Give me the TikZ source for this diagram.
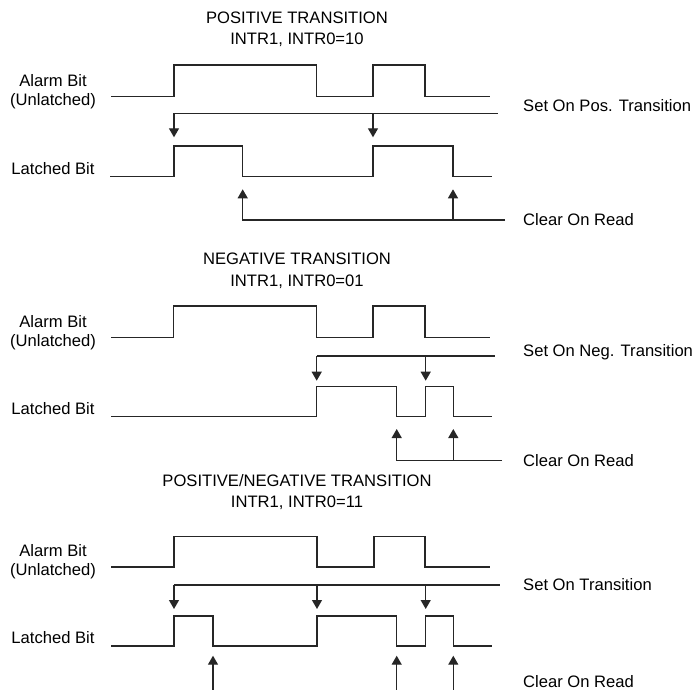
\documentclass[tikz,border=0pt]{standalone}
\usepackage{fontspec}
\setmainfont{Liberation Sans}
\usetikzlibrary{arrows.meta}
\begin{document}
\begin{tikzpicture}[x=1pt,y=-1pt,
  wave/.style={line width=1.3pt,black!85,line join=miter},
  conn/.style={line width=1.3pt,black!85},
  arr/.style={conn,-{Triangle[width=10pt,length=9pt]}},
  lbl/.style={font=\fontsize{16.6}{18}\selectfont,inner sep=0pt,text=black},
  rlbl/.style={lbl,anchor=west},
  every node/.style={lbl}]
\useasboundingbox (0,0) rectangle (693,690);
% ---------- Section 1 ----------
\node (t1a) at (297,18) {POSITIVE TRANSITION};
\node (t1b) at (297,40) {INTR1, INTR0=10};
\node (a1a) at (53,81) {Alarm Bit};
\node (a1b) at (53,101) {(Unlatched)};
\node (l1) at (53,169) {Latched Bit};
\draw[wave] (111,96.7) -- (174,96.7) -- (174,65) -- (316.7,65) -- (316.7,96.7) -- (373,96.7) -- (373,65) -- (425,65) -- (425,96.7) -- (490,96.7);
\draw[wave] (110,176.7) -- (174,176.7) -- (174,146) -- (242.7,146) -- (242.7,176.7) -- (373,176.7) -- (373,146) -- (453,146) -- (453,176.7) -- (492,176.7);
\coordinate (s1a) at (174,113.3); \coordinate (s1b) at (373,113.3); \coordinate (s1e) at (498,113.3);
\coordinate (s1at) at (174,137.3); \coordinate (s1bt) at (373,137.3);
\draw[conn] (s1a) -- (s1e);
\draw[arr] (s1a) -- (s1at);
\draw[arr] (s1b) -- (s1bt);
\node[rlbl] (set1) at (523,106) {Set On Pos. Transition};
\coordinate (c1a) at (242.7,220); \coordinate (c1b) at (453,220); \coordinate (c1e) at (505,220);
\coordinate (c1at) at (242.7,189.3); \coordinate (c1bt) at (453,189.3);
\draw[arr] (c1e) -- (c1a) -- (c1at);
\draw[arr] (c1b) -- (c1bt);
\node[rlbl] (clr1) at (523,220) {Clear On Read};
% ---------- Section 2 ----------
\node (t2a) at (297,259) {NEGATIVE TRANSITION};
\node (t2b) at (297,281.7) {INTR1, INTR0=01};
\node (a2a) at (53,322) {Alarm Bit};
\node (a2b) at (53,342) {(Unlatched)};
\node (l2) at (53,409) {Latched Bit};
\draw[wave] (111,337.7) -- (173.5,337.7) -- (173.5,306) -- (316.7,306) -- (316.7,337.7) -- (373,337.7) -- (373,306) -- (425,306) -- (425,337.7) -- (490,337.7);
\draw[wave] (111,416.7) -- (316.7,416.7) -- (316.7,386.7) -- (396.7,386.7) -- (396.7,416.7) -- (425.7,416.7) -- (425.7,386.7) -- (453.3,386.7) -- (453.3,416.7) -- (492,416.7);
\coordinate (s2a) at (316.7,356); \coordinate (s2b) at (425.7,356); \coordinate (s2e) at (495,356);
\coordinate (s2at) at (316.7,380.7); \coordinate (s2bt) at (425.7,380.7);
\draw[conn] (s2a) -- (s2e);
\draw[arr] (s2a) -- (s2at);
\draw[arr] (s2b) -- (s2bt);
\node[rlbl] (set2) at (523,352) {Set On Neg. Transition};
\coordinate (c2a) at (396.7,460.7); \coordinate (c2b) at (453.3,460.7); \coordinate (c2e) at (502,460.7);
\coordinate (c2at) at (396.7,429); \coordinate (c2bt) at (453.3,429);
\draw[arr] (c2e) -- (c2a) -- (c2at);
\draw[arr] (c2b) -- (c2bt);
\node[rlbl] (clr2) at (523,461) {Clear On Read};
% ---------- Section 3 ----------
\node (t3a) at (297,481) {POSITIVE/NEGATIVE TRANSITION};
\node (t3b) at (297,503) {INTR1, INTR0=11};
\node (a3a) at (53,551) {Alarm Bit};
\node (a3b) at (53,571) {(Unlatched)};
\node (l3) at (53,638) {Latched Bit};
\draw[wave] (111,567) -- (174,567) -- (174,536.7) -- (317,536.7) -- (317,567) -- (374,567) -- (374,536.7) -- (425,536.7) -- (425,567) -- (490,567);
\draw[wave] (111,646) -- (174,646) -- (174,616) -- (213,616) -- (213,646) -- (317,646) -- (317,616) -- (396.7,616) -- (396.7,646) -- (425.7,646) -- (425.7,616) -- (453.3,616) -- (453.3,646) -- (492,646);
\coordinate (s3a) at (174,585); \coordinate (s3b) at (317,585); \coordinate (s3c) at (425.7,585); \coordinate (s3e) at (500,585);
\coordinate (s3at) at (174,609); \coordinate (s3bt) at (317,609); \coordinate (s3ct) at (425.7,609);
\draw[conn] (s3a) -- (s3e);
\draw[arr] (s3a) -- (s3at);
\draw[arr] (s3b) -- (s3bt);
\draw[arr] (s3c) -- (s3ct);
\node[rlbl] (set3) at (523,585) {Set On Transition};
\coordinate (c3a) at (213,690); \coordinate (c3b) at (396.7,690); \coordinate (c3c) at (453.3,690);
\coordinate (c3at) at (213,655.7); \coordinate (c3bt) at (396.7,655.7); \coordinate (c3ct) at (453.3,655.7);
\draw[arr] (c3a) -- (c3at);
\draw[arr] (c3b) -- (c3bt);
\draw[arr] (c3c) -- (c3ct);
\node[rlbl] (clr3) at (523,682) {Clear On Read};
\end{tikzpicture}
\end{document}
